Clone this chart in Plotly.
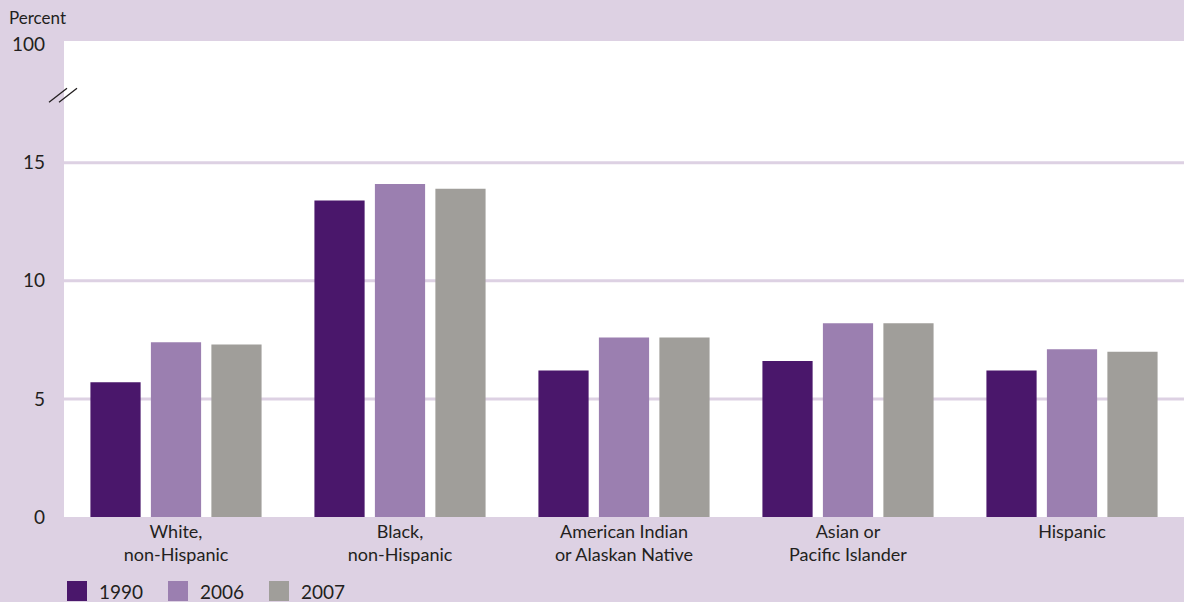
import plotly.graph_objects as go

categories = ["White,<br>non-Hispanic", "Black,<br>non-Hispanic",
              "American Indian<br>or Alaskan Native", "Asian or<br>Pacific Islander", "Hispanic"]
years = ["1990", "2006", "2007"]
v1990 = [5.7, 13.4, 6.2, 6.6, 6.2]
v2006 = [7.4, 14.1, 7.6, 8.2, 7.1]
v2007 = [7.3, 13.9, 7.6, 8.2, 7.0]
series = [v1990, v2006, v2007]
colors = ["#4a176b", "#9b7fb0", "#a09e9a"]
tick_vals = [0, 5, 10, 15, 20]
tick_text = ["0", "5", "10", "15", "100"]
grid_vals = [5, 10, 15]

BG = "#ddd1e3"
FONT = "Lato"
TXT = "#231f20"

fig = go.Figure()
for name, vals, col in zip(years, series, colors):
    fig.add_trace(go.Bar(x=categories, y=vals, name=name, marker_color=col,
                         marker_line_width=0, showlegend=False))

shapes = []
for g in grid_vals:
    shapes.append(dict(type="line", xref="paper", x0=0, x1=1, yref="y", y0=g, y1=g,
                       line=dict(color=BG, width=3), layer="below"))
# axis break marks
for dx in (0, 10):
    shapes.append(dict(type="line", xref="paper", xsizemode="pixel", xanchor=0,
                       x0=-15 + dx, x1=3 + dx, yref="y", ysizemode="pixel", yanchor=17.85,
                       y0=-7, y1=7, line=dict(color=TXT, width=1.3)))

annotations = [dict(text="Percent", xref="paper", yref="paper", x=0, y=1, xanchor="left",
                    yanchor="bottom", xshift=-57, yshift=11, showarrow=False,
                    font=dict(family=FONT, size=17, color=TXT))]

# manual legend with larger squares
for i, (name, col) in enumerate(zip(years, colors)):
    x0 = 3 + i * 101
    shapes.append(dict(type="rect", xref="paper", xsizemode="pixel", xanchor=0,
                       x0=x0, x1=x0 + 20, yref="paper", ysizemode="pixel", yanchor=0,
                       y0=-64, y1=-84, fillcolor=col, line=dict(color=col, width=0)))
    annotations.append(dict(text=name, xref="paper", yref="paper", x=0, y=0,
                            xanchor="left", yanchor="middle", xshift=x0 + 30, yshift=-74,
                            showarrow=False, font=dict(family=FONT, size=19, color=TXT)))

fig.update_layout(
    width=1184, height=602,
    margin=dict(l=64, r=0, t=41, b=85),
    paper_bgcolor=BG, plot_bgcolor="white",
    barmode="group", bargap=0.19, bargroupgap=0.17,
    font=dict(family=FONT, size=18, color=TXT),
    shapes=shapes, annotations=annotations,
    xaxis=dict(showgrid=False, showline=False, ticks="", tickfont=dict(size=18),
               ticklabelstandoff=2),
    yaxis=dict(range=[0, 20.15], tickvals=tick_vals, ticktext=tick_text, showgrid=False,
               zeroline=False, showline=False, ticks="", ticklabelstandoff=18,
               tickfont=dict(size=19)),
)

fig.write_html("out.html", config={"displayModeBar": False},
               post_script="document.body.style.margin='0';document.body.style.padding='0';")
